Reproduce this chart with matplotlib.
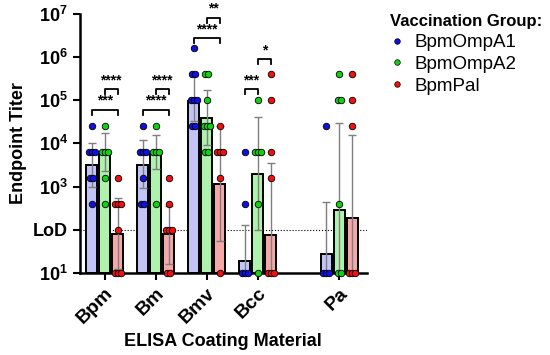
import numpy as np
import matplotlib
matplotlib.use('Agg')
import matplotlib.pyplot as plt
from matplotlib.lines import Line2D

plt.rcParams['font.family'] = ['Liberation Sans', 'DejaVu Sans']
plt.rcParams['mathtext.fontset'] = 'custom'
plt.rcParams['mathtext.rm'] = 'Liberation Sans'
plt.rcParams['mathtext.bf'] = 'Liberation Sans:bold'

# 항원 / 그룹
antigens = ['Bpm', 'Bm', 'Bmv', 'Bcc', 'Pa']
groups = ['BpmOmpA1', 'BpmOmpA2', 'BpmPal']

# 개별 마우스 역가 (LoD 미만은 10 으로 표시)
ompa1_dots = [[25600, 6400, 6400, 6400, 1600, 1600, 400],
              [25600, 6400, 6400, 6400, 1600, 400, 400],
              [1638400, 409600, 409600, 102400, 102400, 102400, 25600, 25600],
              [6400, 400, 10, 10, 10],
              [25600, 10, 10, 10]]
ompa2_dots = [[25600, 6400, 6400, 6400, 1600, 400],
              [25600, 6400, 6400, 6400, 400],
              [409600, 409600, 102400, 25600, 25600, 25600, 6400, 6400],
              [102400, 6400, 6400, 6400, 400, 10],
              [409600, 102400, 102400, 400, 10, 10]]
pal_dots = [[1600, 400, 400, 400, 100, 10, 10, 10],
            [1600, 400, 100, 100, 100, 10, 10],
            [25600, 6400, 6400, 6400, 1600, 10],
            [409600, 102400, 6400, 1600, 10, 10, 10],
            [409600, 102400, 25600, 10, 10, 10]]

# 기하평균 막대 높이와 오차 범위
ompa1_mean = [3160, 3090, 97700, 19, 28]
ompa2_mean = [5620, 5620, 38900, 2000, 290]
pal_mean = [80, 80, 1150, 76, 186]
ompa1_hi = [10500, 11700, 427000, 126, 437]
ompa2_hi = [17800, 15800, 174000, 41700, 29500]
pal_hi = [537, 355, 25100, 3470, 15800]
ompa1_lo = [1000, 933, 33900, 3, 2]
ompa2_lo = [2240, 2510, 9330, 100, 3]
pal_lo = [12.6, 16.2, 56, 2, 2]

xpos = [0, 1, 2, 3, 4.6]

fills = ['#c3c3f5', '#aef2ae', '#f5a8a8']
dotc = ['#1010e0', '#10d010', '#f01010']

fig = plt.figure(figsize=(5.5, 3.55), dpi=100)
ax = fig.add_axes([0.145, 0.231, 0.522, 0.730])
ax.set_yscale('log')

all_dots = [ompa1_dots, ompa2_dots, pal_dots]
all_mean = [ompa1_mean, ompa2_mean, pal_mean]
all_hi = [ompa1_hi, ompa2_hi, pal_hi]
all_lo = [ompa1_lo, ompa2_lo, pal_lo]
offs = [-0.255, 0, 0.255]
bw = 0.21

for g in range(3):
    xs = np.array(xpos) + offs[g]
    m = np.array(all_mean[g], dtype=float)
    ax.bar(xs, m - 10, bottom=10, width=bw, color=fills[g], edgecolor='black',
           linewidth=1.4, zorder=2)
    err = [m - np.array(all_lo[g]), np.array(all_hi[g]) - m]
    ax.errorbar(xs, m, yerr=err, fmt='none', ecolor='#7f7f7f', elinewidth=1,
                capsize=3, capthick=1, zorder=3)
    for i, vals in enumerate(all_dots[g]):
        for v in set(vals):
            n = vals.count(v)
            dx = (np.arange(n) - (n - 1) / 2) * 0.06
            ax.scatter(xs[i] + dx, [v] * n, s=22, color=dotc[g],
                       edgecolor='black', linewidth=0.6, zorder=4, clip_on=False)

# LoD 점선
ax.axhline(100, color='black', linestyle=':', linewidth=0.8, zorder=1)

# 유의성 표시
def bracket(x1, x2, y, txt):
    ax.plot([x1, x1, x2, x2], [y / 1.3, y, y, y / 1.3], color='black', lw=1.3,
            zorder=5, clip_on=False)
    ax.text((x1 + x2) / 2, y * 1.1, txt, ha='center', va='bottom', fontsize=10,
            fontweight='bold')

bracket(-0.255, 0.255, 10**4.78, '***')
bracket(0, 0.255, 10**5.26, '****')
bracket(0.745, 1.255, 10**4.78, '****')
bracket(1, 1.255, 10**5.26, '****')
bracket(1.745, 2.255, 10**6.44, '****')
bracket(2, 2.255, 10**6.91, '**')
bracket(2.745, 3, 10**5.26, '***')
bracket(3, 3.255, 10**5.96, '*')

ax.set_ylim(10, 1e7)
ax.set_xlim(-0.49, 5.14)
ax.set_yticks([10, 100, 1e3, 1e4, 1e5, 1e6, 1e7])
ax.set_yticklabels([r'$\mathbf{10^{1}}$', 'LoD', r'$\mathbf{10^{3}}$', r'$\mathbf{10^{4}}$',
                    r'$\mathbf{10^{5}}$', r'$\mathbf{10^{6}}$', r'$\mathbf{10^{7}}$'],
                   fontsize=13, fontweight='bold')
ax.minorticks_off()
ax.set_xticks(xpos)
ax.set_xticklabels(antigens, rotation=45, ha='right', rotation_mode='anchor',
                   fontsize=14, fontweight='bold')
ax.tick_params(axis='both', width=1.5, length=5)
for s in ['top', 'right']:
    ax.spines[s].set_visible(False)
for s in ['left', 'bottom']:
    ax.spines[s].set_linewidth(1.8)

ax.set_ylabel('Endpoint Titer', fontsize=13, fontweight='bold')
ax.set_xlabel('ELISA Coating Material', fontsize=13, fontweight='bold')

handles = [Line2D([], [], marker='o', linestyle='none', markersize=4,
                  markerfacecolor=dotc[g], markeredgecolor='black',
                  markeredgewidth=0.5) for g in range(3)]
leg = fig.legend(handles, groups, loc='upper left', bbox_to_anchor=(0.705, 0.965),
                 frameon=False, fontsize=13.5, title='Vaccination Group:',
                 title_fontproperties={'weight': 'bold', 'size': 12},
                 handlelength=0.8, handletextpad=0.5, labelspacing=0.25,
                 borderpad=0.1, borderaxespad=0, alignment='left')

fig.savefig('out.png', dpi=100)
